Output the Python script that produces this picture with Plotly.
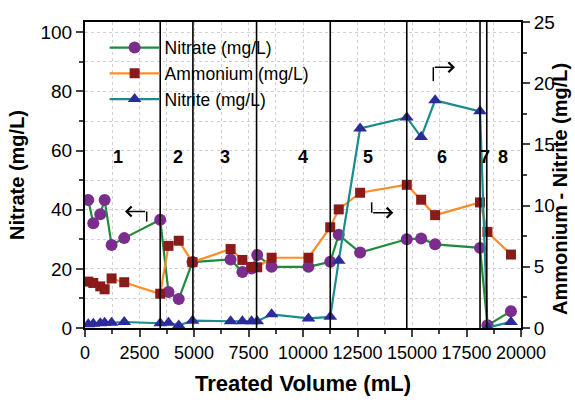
import plotly.graph_objects as go

# ---- data ----
volume_ml = [150, 380, 700, 900, 1220, 1800, 3450, 3830, 4300, 4930, 6680, 7220, 7640, 7900,
             8560, 10250, 11250, 11640, 12620, 14760, 15420, 16060, 18120, 18460, 19540]
nitrate = [43.3, 35.4, 38.5, 43.3, 28.1, 30.4, 36.6, 12.2, 9.8, 22.3, 23.2, 18.9, 20.1, 24.7,
           20.7, 20.7, 22.4, 31.5, 25.5, 30.0, 30.3, 28.3, 27.1, 0.9, 5.7]
ammonium = [3.79, 3.68, 3.40, 3.16, 4.05, 3.74, 2.80, 6.71, 7.13, 5.38, 6.45, 5.56, 4.99, 4.96,
            5.74, 5.74, 8.23, 9.69, 11.05, 11.70, 10.48, 9.22, 10.26, 7.85, 6.0]
nitrite = [0.30, 0.34, 0.39, 0.42, 0.42, 0.49, 0.39, 0.42, 0.21, 0.60, 0.55, 0.55, 0.55, 0.55,
           1.12, 0.78, 0.91, 5.5, 16.3, 17.2, 15.6, 18.6, 17.7, 0.03, 0.5]

x_ticks = [0, 2500, 5000, 7500, 10000, 12500, 15000, 17500, 20000]
x_tick_labels = ["0", "2500", "5000", "7500", "10000", "12500", "15000", "17500", "20000"]

stage_bounds = [3450, 4950, 7870, 11250, 14760, 18120, 18430]
stage_labels = ["1", "2", "3", "4", "5", "6", "7", "8"]
stage_label_x = [1500, 4280, 6420, 9990, 13000, 16360, 18330, 19160]
stage_label_y = 57.8  # nitrate scale

# arrows: (corner_x, tail_y, corner_y, head_x) in nitrate axis units
arrows = [
    (2830, 36.0, 39.4, 1835),
    (13150, 42.5, 39.0, 14142),
    (15977, 83.5, 88.2, 16972),
]

FONT = "Liberation Sans, Arial, sans-serif"

fig = go.Figure()
fig.add_trace(go.Scatter(
    x=volume_ml, y=nitrate, name="Nitrate (mg/L)", mode="lines+markers",
    line=dict(color="#1e8c3a", width=2.2),
    marker=dict(symbol="circle", size=12, color="#7b2d8e"),
))
fig.add_trace(go.Scatter(
    x=volume_ml, y=ammonium, name="Ammonium (mg/L)", mode="lines+markers", yaxis="y2",
    line=dict(color="#ff8c28", width=2.2),
    marker=dict(symbol="square", size=10, color="#8b1a1a"),
))
fig.add_trace(go.Scatter(
    x=volume_ml, y=nitrite, name="Nitrite (mg/L)", mode="lines+markers", yaxis="y2",
    line=dict(color="#1a8c8c", width=2.2),
    marker=dict(symbol="triangle-up", size=12, color="#2b2b9b"),
))

for xb in stage_bounds:
    fig.add_shape(type="line", xref="x", yref="paper", x0=xb, x1=xb, y0=0, y1=1,
                  line=dict(color="black", width=1.6), layer="above")

for lab, lx in zip(stage_labels, stage_label_x):
    fig.add_annotation(x=lx, y=stage_label_y, xref="x", yref="y", text=f"<b>{lab}</b>",
                       showarrow=False, font=dict(size=18, color="black", family=FONT))

for cx, ty, cy, hx in arrows:
    fig.add_shape(type="line", xref="x", yref="y", x0=cx, x1=cx, y0=ty, y1=cy,
                  line=dict(color="black", width=1.5))
    fig.add_annotation(x=hx, y=cy, ax=cx, ay=cy, xref="x", yref="y", axref="x", ayref="y",
                       text="", showarrow=True, arrowhead=4, arrowsize=1.3, arrowwidth=1.5,
                       arrowcolor="black")

# right-axis title (sits slightly below the plot centre in the reference)
fig.add_annotation(x=1.09, y=0.455, xref="paper", yref="paper", xanchor="center",
                   yanchor="middle", textangle=-90, showarrow=False,
                   text="<b>Ammonium - Nitrite (mg/L)</b>",
                   font=dict(size=20, color="black", family=FONT))

fig.update_layout(
    width=575, height=404,
    margin=dict(l=85, r=54, t=22, b=63),
    paper_bgcolor="white", plot_bgcolor="white",
    font=dict(family=FONT, size=18, color="black"),
    showlegend=True,
    legend=dict(x=0.045, y=0.975, xanchor="left", yanchor="top", bgcolor="rgba(0,0,0,0)",
                font=dict(size=17.5, family=FONT), tracegroupgap=0, itemwidth=50),
    xaxis=dict(
        range=[0, 20000], tickmode="array", tickvals=x_ticks, ticktext=x_tick_labels,
        tickangle=0, ticks="outside", ticklen=7, tickwidth=1.5,
        showline=True, linecolor="black", linewidth=2, mirror=True, zeroline=False,
        title=dict(text="<b>Treated Volume (mL)</b>", font=dict(size=22), standoff=14),
        minor=dict(dtick=1250, tick0=0, ticks="outside", ticklen=4, showgrid=True,
                   gridcolor="#d0d0d0", griddash="dot"),
        showgrid=True, gridcolor="#d0d0d0", griddash="dot",
        tickfont=dict(size=18),
    ),
    xaxis2=dict(
        range=[0, 20000], overlaying="x", side="top", dtick=2500, tick0=0,
        ticks="inside", ticklen=7, tickwidth=1.5, showticklabels=False, showgrid=False,
        zeroline=False, minor=dict(dtick=1250, ticks="inside", ticklen=4),
    ),
    yaxis=dict(
        range=[0, 103.5], dtick=20, tick0=0, ticks="outside", ticklen=7, tickwidth=1.5,
        showline=True, linecolor="black", linewidth=2, mirror=True, zeroline=False,
        title=dict(text="<b>Nitrate (mg/L)</b>", font=dict(size=20), standoff=10),
        minor=dict(dtick=10, ticks="outside", ticklen=4, showgrid=True,
                   gridcolor="#d0d0d0", griddash="dot"),
        showgrid=True, gridcolor="#d0d0d0", griddash="dot",
        tickfont=dict(size=19),
    ),
    yaxis2=dict(
        range=[0, 25], dtick=5, tick0=0, overlaying="y", side="right",
        ticks="outside", ticklen=7, tickwidth=1.5, showgrid=False, zeroline=False,
        showline=True, linecolor="black", linewidth=2,
        minor=dict(dtick=2.5, ticks="outside", ticklen=4),
        tickfont=dict(size=19),
    ),
)

fig.write_html("out.html")
